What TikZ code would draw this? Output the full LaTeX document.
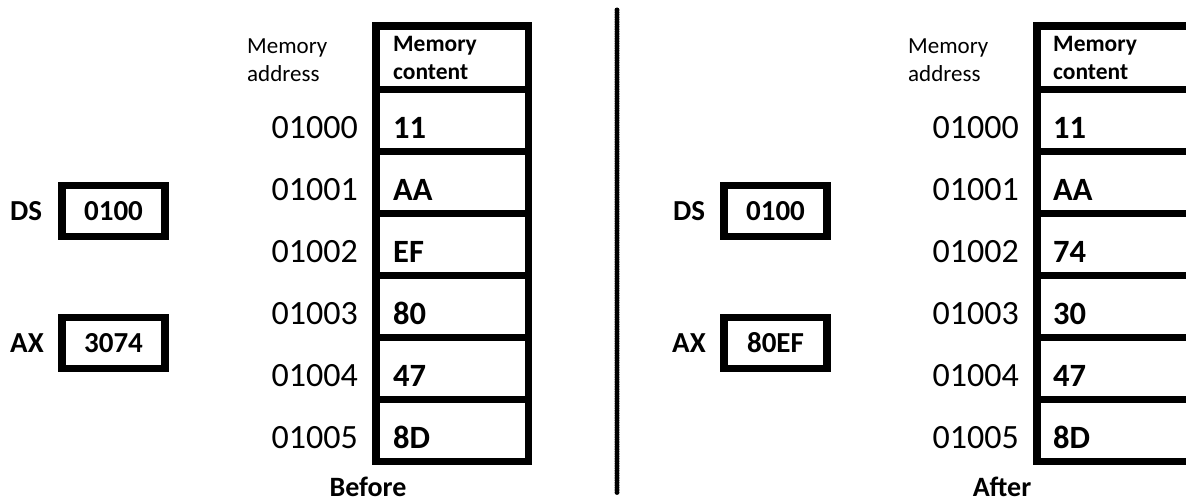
\documentclass[tikz,border=0pt]{standalone}
\usepackage{fontspec}
\setmainfont{Carlito}
\begin{document}
\begin{tikzpicture}[x=1pt,y=-1pt,
  regbox/.style={draw, line width=7.5pt, minimum width=103pt, minimum height=51pt, inner sep=0pt, font=\fontsize{29}{34}\selectfont\bfseries},
  reglabel/.style={anchor=base west, inner sep=0pt, font=\fontsize{29}{34}\selectfont\bfseries},
  cell/.style={draw, line width=7.5pt, minimum width=152.5pt, minimum height=62pt, inner sep=0pt},
  hcell/.style={cell, minimum height=63.5pt},
  content/.style={anchor=base west, inner sep=0pt, font=\fontsize{32.5}{38}\selectfont\bfseries},
  addr/.style={anchor=base east, inner sep=0pt, font=\fontsize{34}{40}\selectfont},
  hdr/.style={anchor=base west, inner sep=0pt, font=\fontsize{23}{28}\selectfont},
  hdrb/.style={hdr, font=\fontsize{23.5}{28}\selectfont\bfseries},
  caption/.style={anchor=base, inner sep=0pt, font=\fontsize{28}{33}\selectfont\bfseries},
  divider/.style={line width=5pt, line cap=round, dash pattern=on 0pt off 2.4pt},
]
\useasboundingbox (0,0) rectangle (1186,503);

% ---------- Before (left) ----------
\node[reglabel] (dsLl) at (10,220) {DS};
\node[regbox] (dsL) at (113.5,211) {0100};
\node[reglabel] (axLl) at (10,352) {AX};
\node[regbox] (axL) at (113.5,343) {3074};

\node[hcell] (LH) at (452.25,57.75) {};
\node[hdrb] (LHt) at (393,52) {\begin{tabular}[t]{@{}l@{}}Memory\\content\end{tabular}};
\node[hdr] (LMA) at (247,54) {\begin{tabular}[t]{@{}l@{}}Memory\\address\end{tabular}};

\foreach \i/\a/\b/\c in {1/01000/11/11, 2/01001/AA/AA, 3/01002/EF/74, 4/01003/80/30, 5/01004/47/47, 6/01005/8D/8D} {
  \node[cell] (L\i) at (452.25, {120.5+62*(\i-1)}) {};
  \node[content] (Lv\i) at (393, {138+62*(\i-1)}) {\b};
  \node[addr] (La\i) at (358, {138+62*(\i-1)}) {\a};
  \node[cell] (R\i) at (1113.25, {120.5+62*(\i-1)}) {};
  \node[content] (Rv\i) at (1053, {138+62*(\i-1)}) {\c};
  \node[addr] (Ra\i) at (1019, {138+62*(\i-1)}) {\a};
}
\node[caption] (before) at (368,496) {Before};

% ---------- divider ----------
\coordinate (dtop) at (617,10);
\coordinate (dbot) at (617,493);
\draw[divider] (dtop) -- (dbot);

% ---------- After (right) ----------
\node[reglabel] (dsRl) at (673,220) {DS};
\node[regbox] (dsR) at (775.5,211) {0100};
\node[reglabel] (axRl) at (672,352) {AX};
\node[regbox] (axR) at (775.5,343) {80EF};

\node[hcell] (RH) at (1113.25,57.75) {};
\node[hdrb] (RHt) at (1053,52) {\begin{tabular}[t]{@{}l@{}}Memory\\content\end{tabular}};
\node[hdr] (RMA) at (908,54) {\begin{tabular}[t]{@{}l@{}}Memory\\address\end{tabular}};

\node[caption] (after) at (1002,496) {After};
\end{tikzpicture}
\end{document}
